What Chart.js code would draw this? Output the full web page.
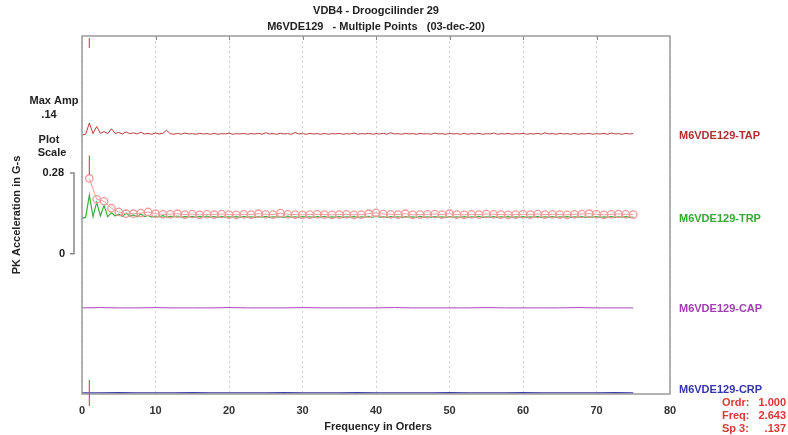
<!DOCTYPE html>
<html>
<head>
<meta charset="utf-8">
<script src="https://cdn.jsdelivr.net/npm/chart.js@4/dist/chart.umd.min.js"></script>
<style>
  body { margin: 0; background: #fff; }
  #wrap { width: 788px; height: 435px; position: relative; }
</style>
</head>
<body>
<div id="wrap"><canvas id="spec"></canvas></div>
<script>
// spectra, amplitudes in milli-g, one value per half order from 0 to 75
const tapAmp = [0,3,42,5,30,6,12,5,22,6,
  9,4,11,5,8,4,10,4,6,3,
  7,4,6,17,5,3,6,3,7,4,
  5,3,6,4,5,3,6,3,5,4,
  7,3,5,4,6,3,5,4,6,3,
  8,4,5,3,6,4,5,3,9,4,
  5,3,6,4,5,3,6,3,5,4,
  6,3,5,4,7,3,5,4,6,3,
  5,4,6,3,8,4,5,3,6,4,
  5,3,6,4,5,3,7,4,5,3,
  6,4,5,3,6,3,5,4,6,3,
  5,4,7,3,5,4,6,3,5,4,
  6,3,5,4,6,3,8,4,5,3,
  6,4,5,3,6,3,5,4,6,3,
  5,4,6,3,7,4,5,3,6,4,
  5];
const trpAmp = [0,4,80,6,55,8,45,6,20,8,
  14,6,18,7,12,5,15,6,10,4,
  8,5,9,4,7,5,8,4,6,5,
  7,4,6,5,8,4,6,3,7,4,
  5,4,6,3,7,4,5,3,6,4,
  7,3,5,4,6,3,8,4,5,3,
  6,4,5,3,6,4,7,3,5,4,
  6,3,5,4,6,3,5,4,7,3,
  8,4,5,3,6,4,5,3,6,4,
  5,3,7,4,5,3,6,4,5,3,
  6,4,5,3,6,3,5,4,7,3,
  5,4,6,3,5,4,6,3,5,4,
  6,3,5,4,7,3,5,4,6,3,
  5,4,6,3,5,4,6,3,5,4,
  6,3,5,4,6,3,5,4,6,3,
  4];
// "multiple points" markers at each whole order 1..75 (milli-g)
const peakAmp = [138,66,59,35,22,16,16,18,22,16,
  14,14,16,13,15,12,14,13,15,13,
  12,14,13,16,14,13,18,14,13,12,
  13,14,13,12,13,14,12,13,16,19,
  15,14,13,16,12,13,14,15,13,16,
  13,12,14,13,15,14,13,12,13,14,
  13,15,13,14,13,12,14,15,16,14,
  12,14,15,14,13];
// flat traces, one value per 2.5 orders
const capAmp = [1,2,1,1,2,1,1,1,2,1,1,1,2,1,1,1,1,2,1,1,1,1,2,1,1,1,1,2,1,1,1];
const crpAmp = [1,1,2,1,1,1,2,1,1,1,1,2,1,1,1,2,1,1,1,1,2,1,1,1,2,1,1,1,1,2,1];

const pointNames = ["M6VDE129-TAP", "M6VDE129-TRP", "M6VDE129-CAP", "M6VDE129-CRP"];
const traceOffsets = [0.896, 0.608, 0.297, 0.003];   // waterfall baseline, g
const traceColors = ["#b83c3c", "#3cae3c", "#a845b8", "#3a3aa6"];
const labelColors = ["#b03030", "#35a835", "#a040b0", "#3535aa"];
const peakColor = "#f29a9a";

const xTicks = [0, 10, 20, 30, 40, 50, 60, 70, 80];
const cursorOrder = 1;
const readout = [["Ordr:", "1.000"], ["Freq:", "2.643"], ["Sp 3:", ".137"]];
const maxAmp = ".14";
const scaleSpan = 0.28;
const scaleBase = 0.485;

function series(amps, step, offset) {
  return amps.map((v, i) => ({ x: i * step, y: offset + v / 1000 }));
}

const datasets = [
  { label: pointNames[0], data: series(tapAmp, 0.5, traceOffsets[0]), borderColor: traceColors[0], borderWidth: 1, pointRadius: 0 },
  { label: "peaks", data: peakAmp.map((v, i) => ({ x: i + 1, y: traceOffsets[1] + v / 1000 })),
    borderColor: peakColor, borderWidth: 1, pointRadius: 3.7, pointBorderColor: peakColor,
    pointBackgroundColor: "rgba(255,255,255,0)", pointBorderWidth: 1.3 },
  { label: pointNames[1], data: series(trpAmp, 0.5, traceOffsets[1]), borderColor: traceColors[1], borderWidth: 1.2, pointRadius: 0 },
  { label: pointNames[2], data: series(capAmp, 2.5, traceOffsets[2]), borderColor: traceColors[2], borderWidth: 1, pointRadius: 0 },
  { label: pointNames[3], data: series(crpAmp, 2.5, traceOffsets[3]), borderColor: traceColors[3], borderWidth: 1.2, pointRadius: 0 }
];

const FONT = "bold 11px 'Liberation Sans', Arial, sans-serif";

const decor = {
  id: "decor",
  afterDraw(chart) {
    const ctx = chart.ctx;
    const a = chart.chartArea;
    const xs = chart.scales.x, ys = chart.scales.y;
    ctx.save();

    // small ticks on the top edge
    ctx.strokeStyle = "#888";
    ctx.lineWidth = 1;
    xTicks.slice(1, -1).forEach(t => {
      const px = Math.round(xs.getPixelForValue(t)) + 0.5;
      ctx.beginPath(); ctx.moveTo(px, a.top); ctx.lineTo(px, a.top + 4); ctx.stroke();
    });

    // frame
    ctx.strokeStyle = "#9a9a9a";
    ctx.lineWidth = 1.5;
    ctx.strokeRect(a.left, a.top, a.right - a.left, a.bottom - a.top);

    // cursor
    const cx = xs.getPixelForValue(cursorOrder);
    const cy = ys.getPixelForValue(traceOffsets[1] + peakAmp[cursorOrder - 1] / 1000);
    ctx.strokeStyle = "#e05050";
    ctx.lineWidth = 1.2;
    [[a.top + 2, a.top + 12], [cy - 23, cy - 4], [a.bottom - 14, a.bottom + 12]].forEach(s => {
      ctx.beginPath(); ctx.moveTo(cx, s[0]); ctx.lineTo(cx, s[1]); ctx.stroke();
    });

    // titles
    ctx.fillStyle = "#222";
    ctx.font = FONT;
    ctx.textAlign = "center";
    ctx.textBaseline = "middle";
    const mid = (a.left + a.right) / 2;
    ctx.fillText("VDB4 - Droogcilinder 29", mid, 11);
    ctx.fillText("M6VDE129   - Multiple Points   (03-dec-20)", mid, 27);
    ctx.fillText("Frequency in Orders", mid + 2, 427);

    // left annotations
    ctx.fillText("Max Amp", 54, 101);
    ctx.fillText(maxAmp, 49, 115);
    ctx.fillText("Plot", 49, 140);
    ctx.fillText("Scale", 52, 153);
    const sTop = ys.getPixelForValue(scaleBase + scaleSpan);
    const sBot = ys.getPixelForValue(scaleBase);
    ctx.textAlign = "right";
    ctx.fillText(String(scaleSpan), 64, sTop);
    ctx.fillText("0", 65, sBot);
    ctx.strokeStyle = "#888";
    ctx.lineWidth = 1.5;
    ctx.beginPath();
    ctx.moveTo(70, sTop); ctx.lineTo(74, sTop); ctx.lineTo(74, sBot); ctx.lineTo(70, sBot);
    ctx.stroke();

    // y title
    ctx.save();
    ctx.translate(17, 215);
    ctx.rotate(-Math.PI / 2);
    ctx.textAlign = "center";
    ctx.fillText("PK Acceleration in G-s", 0, 0);
    ctx.restore();

    // trace names
    ctx.textAlign = "left";
    pointNames.forEach((n, i) => {
      ctx.fillStyle = labelColors[i];
      const y = ys.getPixelForValue(traceOffsets[i]);
      ctx.fillText(n, a.right + 9, i === 3 ? y - 3 : y + 1);
    });

    // cursor readout
    ctx.fillStyle = "#e03535";
    readout.forEach((r, i) => {
      const y = 403 + i * 13;
      ctx.textAlign = "left";
      ctx.fillText(r[0], 722, y);
      ctx.textAlign = "right";
      ctx.fillText(r[1], 786, y);
    });
    ctx.restore();
  }
};

new Chart(document.getElementById("spec"), {
  type: "line",
  data: { datasets },
  options: {
    responsive: true,
    maintainAspectRatio: false,
    animation: false,
    layout: { padding: { left: 82, right: 118, top: 36, bottom: 0 } },
    plugins: { legend: { display: false }, tooltip: { enabled: false } },
    elements: { line: { tension: 0 } },
    scales: {
      x: {
        type: "linear",
        min: 0, max: 80,
        afterBuildTicks: s => { s.ticks = xTicks.map(v => ({ value: v })); },
        afterFit: s => { s.height = 41; },
        grid: { color: "#cfcfcf", drawTicks: false },
        border: { display: false, dash: [2, 3] },
        ticks: { padding: 10, color: "#333", font: { size: 11, weight: "bold", family: "'Liberation Sans', Arial, sans-serif" } }
      },
      y: {
        type: "linear",
        display: false,
        min: 0, max: 1.239
      }
    }
  },
  plugins: [decor]
});
</script>
</body>
</html>
